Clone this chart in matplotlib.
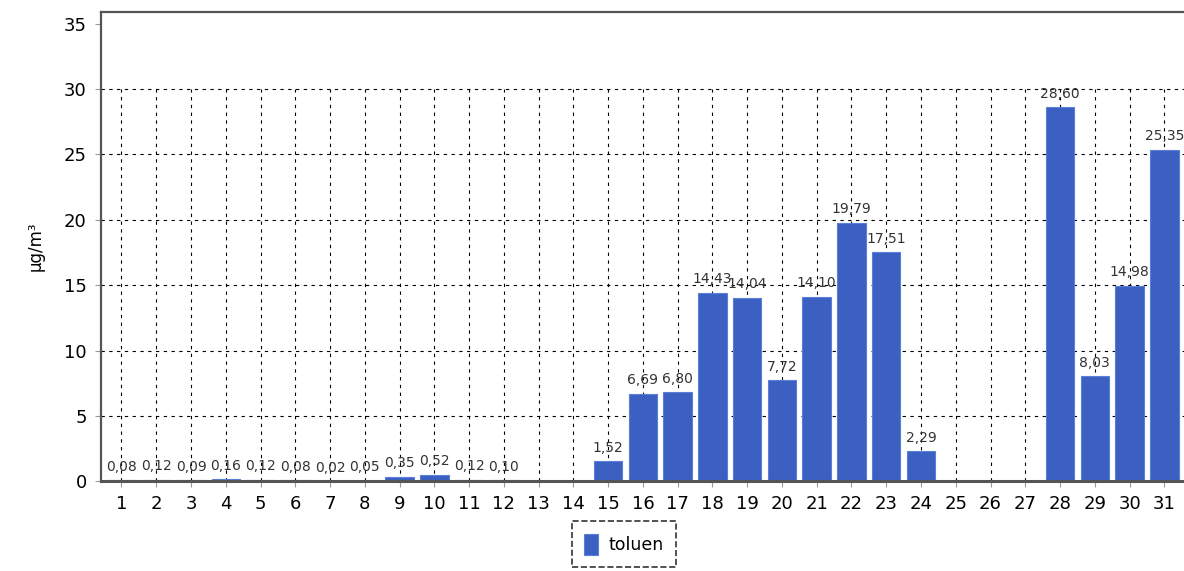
import numpy as np
import matplotlib
matplotlib.use("Agg")
import matplotlib.pyplot as plt

days = list(range(1, 32))
toluen = [0.08, 0.12, 0.09, 0.16, 0.12, 0.08, 0.02, 0.05, 0.35, 0.52,
          0.12, 0.10, np.nan, np.nan, 1.52, 6.69, 6.80, 14.43, 14.04, 7.72,
          14.10, 19.79, 17.51, 2.29, np.nan, np.nan, np.nan, 28.60, 8.03, 14.98,
          25.35]
y_ticks = [0, 5, 10, 15, 20, 25, 30, 35]

fig = plt.figure(figsize=(11.84, 5.71), dpi=100)
ax = fig.add_axes([0.085, 0.157, 0.916, 0.822])

# dashed grid, only up to 30
ax.vlines(days, 0, 30, colors="black", linestyles=(0, (3, 4)), linewidth=0.8, zorder=1)
ax.hlines(y_ticks[1:-1], 0.4, 31.6, colors="black", linestyles=(0, (3, 4)), linewidth=0.8, zorder=1)

bars = ax.bar(days, toluen, width=0.82, color="#3b60c2", edgecolor="#5a7fd6",
              linewidth=0.8, label="toluen", zorder=2)

for d, v in zip(days, toluen):
    if np.isnan(v):
        continue
    ax.text(d, v + 0.5, f"{v:.2f}".replace(".", ","), ha="center", va="bottom",
            fontsize=10, color="#333333", zorder=3)

ax.set_xlim(0.4, 31.6)
ax.set_ylim(0, 35.9)
ax.set_xticks(days)
ax.set_xticklabels([str(d) for d in days], fontsize=13)
ax.set_yticks(y_ticks)
ax.set_yticklabels([str(t) for t in y_ticks], fontsize=13)
ax.tick_params(axis="both", length=4, color="#999999", pad=6)
ax.set_ylabel("µg/m³", fontsize=12, labelpad=14)

for s in ax.spines.values():
    s.set_color("#555555")
    s.set_linewidth(1.6)
ax.spines["bottom"].set_linewidth(2.2)

leg = fig.legend(handles=[bars], labels=["toluen"], loc="upper center",
                 bbox_to_anchor=(0.527, 0.102), fontsize=12.5, frameon=True,
                 fancybox=False, handlelength=0.8, handleheight=1.5,
                 borderpad=0.7, handletextpad=0.6)
leg.get_frame().set_edgecolor("black")
leg.get_frame().set_linewidth(1.2)
leg.get_frame().set_linestyle("--")

fig.savefig("out.png", dpi=100)
